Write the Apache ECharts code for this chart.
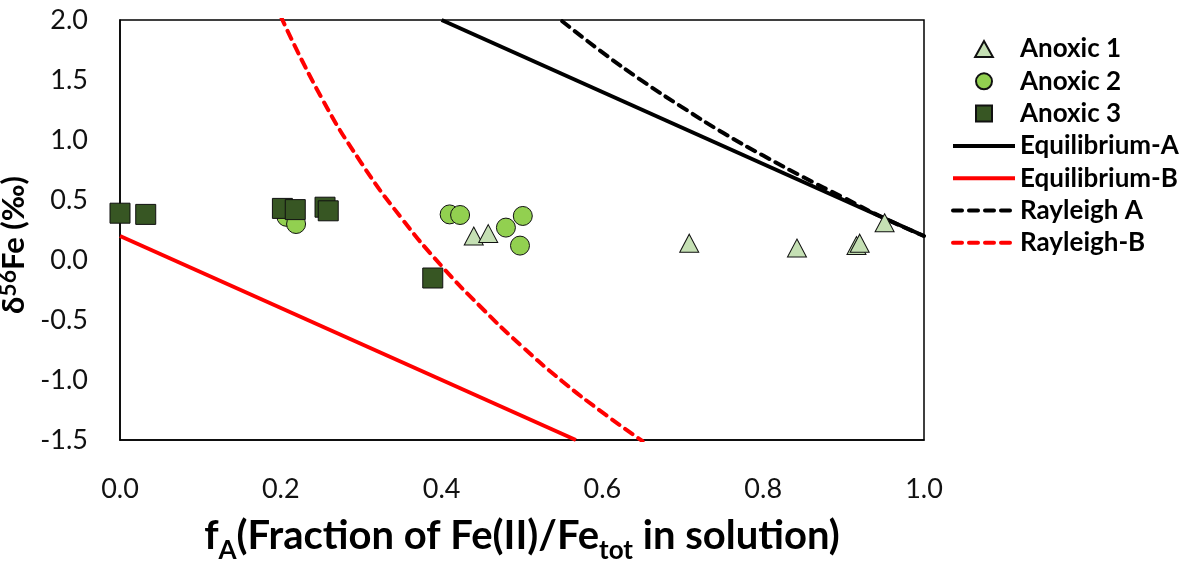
<!DOCTYPE html>
<html>
<head>
<meta charset="utf-8">
<script src="https://cdn.jsdelivr.net/npm/echarts@6/dist/echarts.min.js"></script>
<style>
  html, body { margin: 0; padding: 0; background: #fff; }
  #chart { width: 1192px; height: 568px; }
</style>
</head>
<body>
<div id="chart"></div>
<script>
// measured points, [fA, d56Fe]
const anoxic1 = [[0.44, 0.20], [0.458, 0.22], [0.708, 0.14], [0.842, 0.10], [0.916, 0.12], [0.92, 0.14], [0.951, 0.31]]
const anoxic2 = [[0.207, 0.36], [0.219, 0.30], [0.41, 0.38], [0.423, 0.375], [0.48, 0.27], [0.501, 0.367], [0.4975, 0.12]]
const anoxic3 = [[0.0, 0.39], [0.032, 0.38], [0.202, 0.43], [0.218, 0.42], [0.255, 0.44], [0.259, 0.41], [0.389, -0.15]]

// model curves
const equilibriumA = [[0.4, 2.0], [1.0, 0.2]]
const equilibriumB = [[0.0, 0.2], [0.567, -1.5]]
const rayleighA = [[0.55, 1.99], [0.6, 1.73], [0.65, 1.49], [0.7, 1.27], [0.75, 1.06], [0.8, 0.87], [0.85, 0.69], [0.9, 0.52], [0.95, 0.35], [1.0, 0.2]]
const rayleighB = [[0.2, 2.03], [0.25, 1.36], [0.3, 0.81], [0.35, 0.35], [0.4, -0.05], [0.45, -0.40], [0.5, -0.72], [0.55, -1.01], [0.6, -1.27], [0.65, -1.51]]

const xTicks = [0, 0.2, 0.4, 0.6, 0.8, 1.0]
const yTicks = [-1.5, -1.0, -0.5, 0.0, 0.5, 1.0, 1.5, 2.0]

const FONT = 'Lato'
const chart = echarts.init(document.getElementById('chart'))

const lineSeries = (name, data, color, dashed) => ({
  name: name,
  type: 'line',
  data: data,
  symbol: 'none',
  smooth: data.length > 2,
  z: 1,
  lineStyle: {
    color: color,
    width: 4,
    type: dashed ? [9, 7] : 'solid',
    cap: dashed ? 'round' : 'butt'
  },
  itemStyle: { color: color }
})

const dotSeries = (name, data, symbol, size, color) => ({
  name: name,
  type: 'scatter',
  data: data,
  symbol: symbol,
  symbolSize: size,
  z: 3,
  itemStyle: {
    color: color,
    borderColor: '#111',
    borderWidth: 1,
    opacity: 1
  }
})

// legend: keep marker icons square, hide the dot echarts puts on line icons
const lineIcon = { itemStyle: { opacity: 0 }, lineStyle: { width: 4 } }
const legendItems = [
  { name: 'Anoxic 1', icon: 'path://M0,9 L5,0 L10,9 Z' },
  { name: 'Anoxic 2', icon: 'circle' },
  { name: 'Anoxic 3', icon: 'path://M0,0 L10,0 L10,10 L0,10 Z' },
  Object.assign({ name: 'Equilibrium-A' }, lineIcon),
  Object.assign({ name: 'Equilibrium-B' }, lineIcon),
  Object.assign({ name: 'Rayleigh A' }, lineIcon),
  Object.assign({ name: 'Rayleigh-B' }, lineIcon)
]

const option = {
  animation: false,
  textStyle: { fontFamily: FONT },
  grid: {
    left: 120,
    top: 20,
    width: 804,
    height: 420,
    outerBoundsMode: 'none',
    containLabel: false,
    show: true,
    borderColor: '#000',
    borderWidth: 1.5,
    backgroundColor: 'transparent'
  },
  legend: {
    left: 946,
    top: 31,
    orient: 'vertical',
    itemWidth: 62,
    itemHeight: 16,
    itemGap: 6.3,
    symbolKeepAspect: true,
    data: legendItems,
    textStyle: {
      fontFamily: FONT,
      fontWeight: 'bold',
      fontSize: 26,
      lineHeight: 26,
      color: '#000'
    }
  },
  xAxis: {
    type: 'value',
    min: 0,
    max: 1,
    interval: 0.2,
    splitLine: { show: false },
    axisTick: { show: false },
    axisLine: { onZero: false, lineStyle: { color: '#000', width: 1.5 } },
    axisLabel: {
      margin: 36,
      fontSize: 27,
      color: '#111',
      formatter: v => v.toFixed(1)
    },
    name: '{b|f}{sub|A}{b|(Fraction of Fe(II)/Fe}{sub|tot}{b| in solution)}',
    nameLocation: 'middle',
    nameGap: 76,
    nameTextStyle: {
      rich: {
        b: { fontFamily: FONT, fontWeight: 'bold', fontSize: 40, lineHeight: 48, verticalAlign: 'top', color: '#000' },
        sub: { fontFamily: FONT, fontWeight: 'bold', fontSize: 26, lineHeight: 26, padding: [26, 0, 0, 0], verticalAlign: 'bottom', color: '#000' }
      }
    }
  },
  yAxis: {
    type: 'value',
    min: -1.5,
    max: 2.0,
    interval: 0.5,
    splitLine: { show: false },
    axisTick: { show: false },
    axisLine: { lineStyle: { color: '#000', width: 1.5 } },
    axisLabel: {
      margin: 32,
      fontSize: 27,
      color: '#111',
      formatter: v => v.toFixed(1)
    },
    name: '{b|δ}{sup|56}{b|Fe (‰)}',
    nameLocation: 'middle',
    nameGap: 73,
    nameTextStyle: {
      padding: [0, 30, 0, 0],
      rich: {
        b: { fontFamily: FONT, fontWeight: 'bold', fontSize: 31, lineHeight: 34, color: '#000' },
        sup: { fontFamily: FONT, fontWeight: 'bold', fontSize: 23, lineHeight: 22, verticalAlign: 'top', color: '#000' }
      }
    }
  },
  series: [
    lineSeries('Equilibrium-A', equilibriumA, '#000', false),
    lineSeries('Equilibrium-B', equilibriumB, '#ff0000', false),
    lineSeries('Rayleigh A', rayleighA, '#000', true),
    lineSeries('Rayleigh-B', rayleighB, '#ff0000', true),
    dotSeries('Anoxic 1', anoxic1, 'triangle', [19, 18], '#c5e0b4'),
    dotSeries('Anoxic 2', anoxic2, 'circle', 19, '#92d050'),
    dotSeries('Anoxic 3', anoxic3, 'rect', 20, '#375623')
  ]
}

chart.setOption(option)
</script>
</body>
</html>
